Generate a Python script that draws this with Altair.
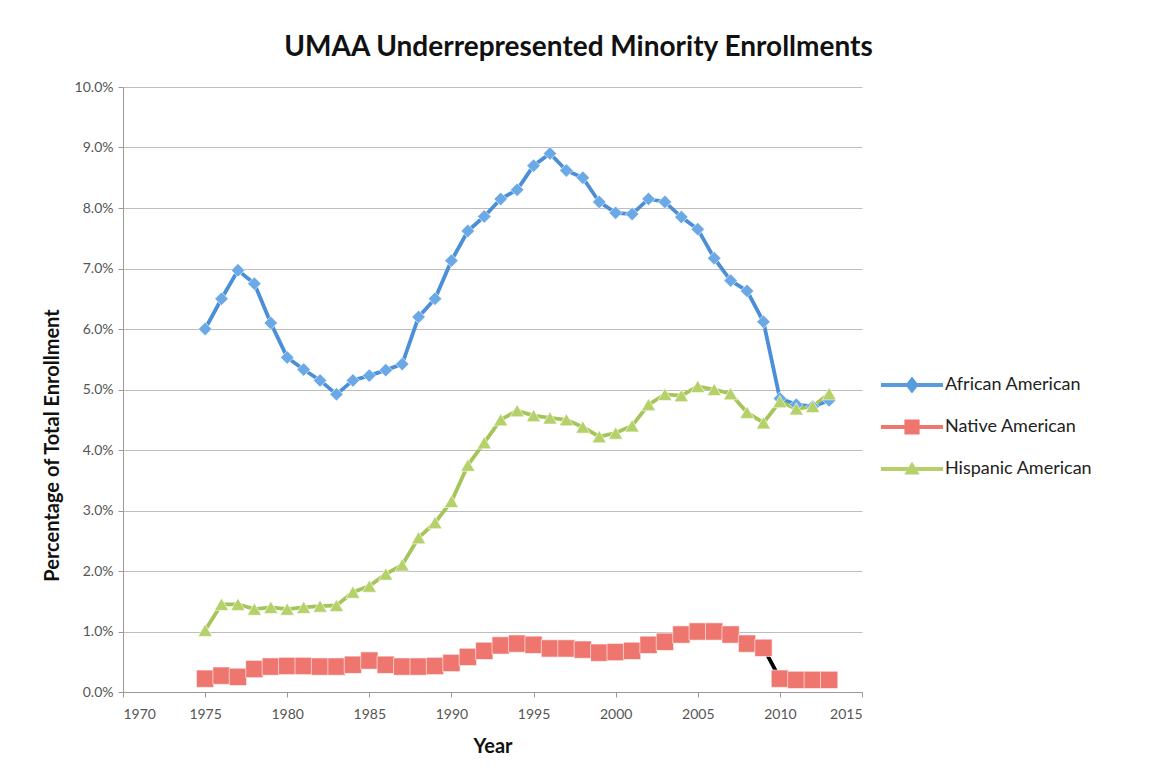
import altair as alt
import pandas as pd

years = list(range(1975, 2014))

african = [6.00, 6.50, 6.97, 6.75, 6.10, 5.53, 5.33, 5.15, 4.92, 5.15,
           5.23, 5.32, 5.42, 6.20, 6.50, 7.13, 7.62, 7.86, 8.15, 8.30,
           8.70, 8.90, 8.62, 8.50, 8.10, 7.92, 7.90, 8.15, 8.10, 7.85,
           7.65, 7.17, 6.80, 6.63, 6.12, 4.85, 4.75, 4.72, 4.82]

native = [0.22, 0.27, 0.25, 0.38, 0.42, 0.43, 0.43, 0.42, 0.42, 0.45,
          0.52, 0.45, 0.42, 0.42, 0.43, 0.48, 0.58, 0.68, 0.77, 0.80,
          0.78, 0.72, 0.72, 0.70, 0.65, 0.66, 0.68, 0.78, 0.83, 0.95,
          1.00, 1.00, 0.95, 0.80, 0.73, 0.22, 0.20, 0.20, 0.20]

hispanic = [1.02, 1.45, 1.45, 1.37, 1.40, 1.37, 1.40, 1.42, 1.43, 1.65,
            1.75, 1.95, 2.10, 2.55, 2.80, 3.15, 3.75, 4.12, 4.50, 4.65,
            4.57, 4.53, 4.50, 4.38, 4.22, 4.28, 4.40, 4.75, 4.92, 4.90,
            5.05, 5.00, 4.93, 4.62, 4.45, 4.80, 4.68, 4.72, 4.93]

series_names = ["African American", "Native American", "Hispanic American"]
line_colors = ["#4a8fd8", "#000000", "#a6c457"]
marker_colors = ["#6aa8e6", "#ee766f", "#b4d16a"]
marker_shapes = ["diamond", "square", "triangle-up"]
marker_sizes = [180, 300, 200]
legend_paths = [
    "M-1.55,-0.1H1.55V0.1H-1.55Z M0,-0.42L0.33,0L0,0.42L-0.33,0Z",
    "M-1.55,-0.1H1.55V0.1H-1.55Z M-0.38,-0.38H0.38V0.38H-0.38Z",
    "M-1.55,-0.1H1.55V0.1H-1.55Z M0,-0.38L0.38,0.28H-0.38Z",
]

values = {"African American": african, "Native American": native,
          "Hispanic American": hispanic}
rows = []
for name in series_names:
    for yr, v in zip(years, values[name]):
        rows.append({"Year": yr, "Pct": v, "Series": name})
df = pd.DataFrame(rows)

FONT = "Lato"

x_enc = alt.X("Year:Q", title="Year",
              scale=alt.Scale(domain=[1970, 2015], nice=False, zero=False),
              axis=alt.Axis(values=list(range(1970, 2016, 5)), format="d",
                            grid=False, tickSize=5, labelPadding=10,
                            titlePadding=15))
y_enc = alt.Y("Pct:Q", title="Percentage of Total Enrollment",
              scale=alt.Scale(domain=[0, 10], nice=False),
              axis=alt.Axis(values=list(range(0, 11)),
                            labelExpr="format(datum.value, '.1f') + '%'",
                            grid=True, tickSize=5, labelPadding=5,
                            titlePadding=12, titleY=358))

base = alt.Chart(df).encode(x=x_enc, y=y_enc)

layers = []
for name, lc in zip(series_names, line_colors):
    layers.append(
        base.transform_filter(alt.datum.Series == name)
        .mark_line(strokeWidth=3.8, color=lc)
    )
for name, mc, ms, sz in zip(series_names, marker_colors, marker_shapes, marker_sizes):
    layers.append(
        base.transform_filter(alt.datum.Series == name)
        .mark_point(filled=True, opacity=1, shape=ms, size=sz, color=mc,
                    stroke="white", strokeWidth=0.6)
    )

legend_layer = base.mark_point(filled=True, opacity=0, size=1).encode(
    color=alt.Color("Series:N", sort=series_names,
                    scale=alt.Scale(domain=series_names,
                                    range=["#5a9be0", "#ee766f", "#b4d16a"]),
                    legend=alt.Legend(title=None, orient="none",
                                      legendX=769, legendY=278,
                                      symbolSize=1600, symbolOpacity=1,
                                      symbolStrokeWidth=0,
                                      labelFontSize=18, labelFont=FONT,
                                      labelColor="#222222",
                                      labelOffset=13, rowPadding=13)),
    shape=alt.Shape("Series:N", sort=series_names,
                    scale=alt.Scale(domain=series_names, range=legend_paths),
                    legend=None),
)
layers.append(legend_layer)

chart = alt.layer(*layers).properties(
    width=739, height=605,
    title=alt.TitleParams("UMAA Underrepresented Minority Enrollments",
                          font=FONT, fontSize=28, fontWeight="bold",
                          color="#111111", anchor="middle", dx=86, offset=18),
    autosize=alt.AutoSizeParams(type="none"),
    padding={"left": 115, "top": 79, "right": 281, "bottom": 82},
).configure_view(stroke=None).configure_axis(
    labelFont=FONT, labelFontSize=14, labelColor="#555555",
    titleFont=FONT, titleFontSize=20, titleFontWeight="bold",
    titleColor="#111111",
    gridColor="#bdbdbd", gridWidth=1,
    domainColor="#9a9a9a", tickColor="#9a9a9a",
)

chart.save("out.html", embed_options={"renderer": "svg", "actions": False})
